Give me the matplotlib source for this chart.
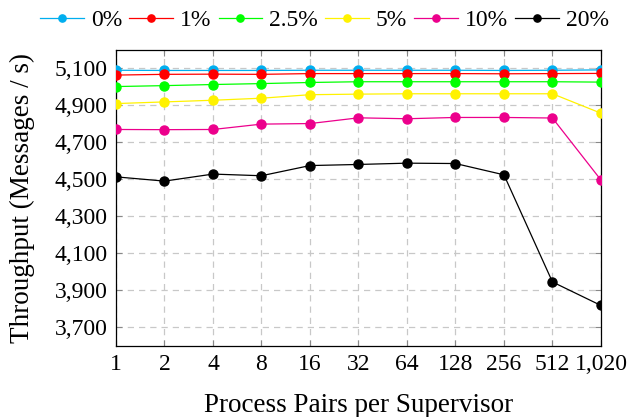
import matplotlib.pyplot as plt
from matplotlib.ticker import FuncFormatter

# dados
pairs = ['1', '2', '4', '8', '16', '32', '64', '128', '256', '512', '1,020']
series = ['0%', '1%', '2.5%', '5%', '10%', '20%']
colors = ['#00AEEF', '#FF0000', '#00FF00', '#FFF200', '#EC008C', '#000000']

tp_0 = [5090, 5089, 5089, 5089, 5090, 5090, 5090, 5090, 5089, 5090, 5092]
tp_1 = [5064, 5068, 5069, 5068, 5072, 5072, 5072, 5072, 5071, 5072, 5073]
tp_2_5 = [5002, 5007, 5013, 5018, 5024, 5028, 5028, 5028, 5028, 5028, 5026]
tp_5 = [4910, 4919, 4928, 4939, 4958, 4961, 4963, 4963, 4963, 4963, 4858]
tp_10 = [4770, 4769, 4770, 4799, 4802, 4833, 4828, 4835, 4835, 4832, 4497]
tp_20 = [4514, 4491, 4529, 4520, 4575, 4581, 4588, 4586, 4525, 3946, 3819]

values = [tp_0, tp_1, tp_2_5, tp_5, tp_10, tp_20]
yticks = [3700, 3900, 4100, 4300, 4500, 4700, 4900, 5100]

plt.rcParams['font.family'] = ['Liberation Serif', 'DejaVu Serif']
plt.rcParams['font.size'] = 17

fig = plt.figure(figsize=(6.29, 4.17), dpi=100)
ax = fig.add_axes([0.1844, 0.1703, 0.771, 0.710])

x = range(len(pairs))
for name, ys, c in zip(series, values, colors):
    ax.plot(x, ys, color=c, lw=0.9, marker='o', ms=6.5, label=name, zorder=3)

ax.set_xlim(0, len(pairs) - 1)
ax.set_ylim(3600, 5200)
ax.set_xticks(list(x))
ax.set_xticklabels(pairs)
ax.set_yticks(yticks)
ax.yaxis.set_major_formatter(FuncFormatter(lambda v, p: f'{int(v):,}'))

ax.grid(True, ls=(0, (5, 4)), color='#c8c8c8', lw=0.9)
ax.set_axisbelow(True)
ax.tick_params(direction='in', top=True, right=True, length=4, color='#888888', pad=6)
for s in ax.spines.values():
    s.set_linewidth(0.9)

ax.set_xlabel('Process Pairs per Supervisor', fontsize=19.5, labelpad=13)
ax.set_ylabel('Throughput (Messages / s)', fontsize=19.5, labelpad=14)

fig.legend(loc='center', bbox_to_anchor=(0.516, 0.952), ncol=6, frameon=False,
           handlelength=1.85, handletextpad=0.3, columnspacing=0.3, borderaxespad=0,
           markerscale=0.8)

fig.savefig('out.png', dpi=100)
